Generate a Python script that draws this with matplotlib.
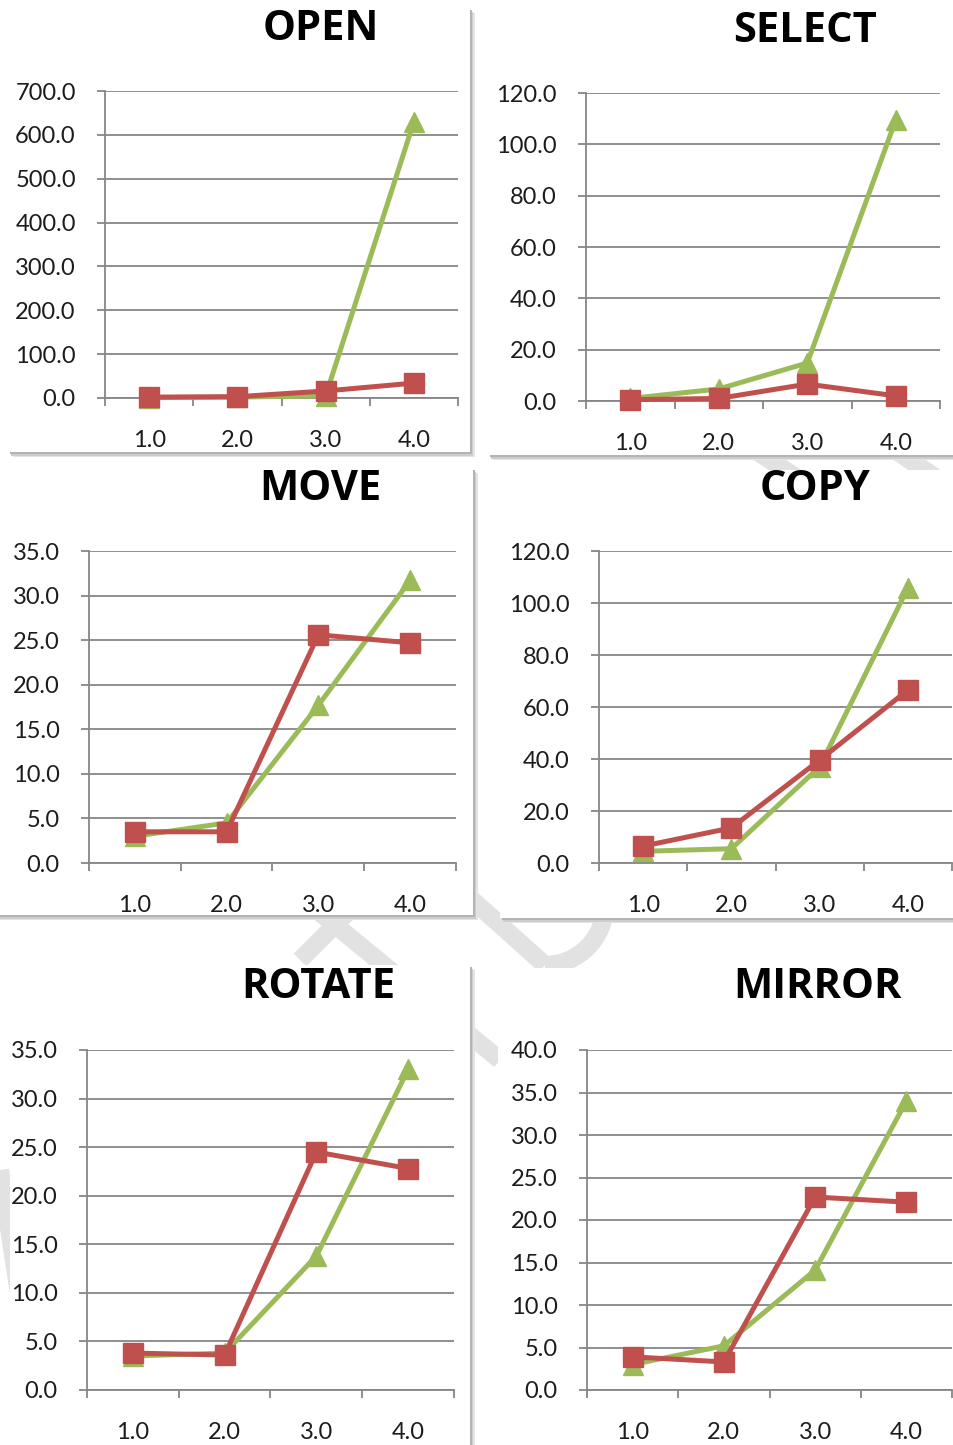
import matplotlib
matplotlib.use("Agg")
import matplotlib.pyplot as plt
from matplotlib.patches import Rectangle, Arc
from matplotlib.lines import Line2D

W, H = 954, 1445

# data
categories = [1.0, 2.0, 3.0, 4.0]
titles = ["OPEN", "SELECT", "MOVE", "COPY", "ROTATE", "MIRROR"]

open_green = [1.0, 2.0, 5.0, 630.0]
open_red = [2.0, 3.0, 16.0, 34.0]
select_green = [1.0, 4.7, 14.8, 109.5]
select_red = [0.5, 1.0, 6.6, 2.0]
move_green = [3.0, 4.5, 17.7, 31.7]
move_red = [3.5, 3.5, 25.6, 24.7]
copy_green = [4.5, 5.5, 37.0, 105.8]
copy_red = [6.5, 13.5, 39.6, 66.5]
rotate_green = [3.5, 3.8, 13.8, 33.0]
rotate_red = [3.8, 3.6, 24.5, 22.8]
mirror_green = [3.0, 5.2, 14.1, 34.0]
mirror_red = [3.9, 3.3, 22.7, 22.1]

y_max = [700, 120, 35, 120, 35, 40]
y_step = [100, 20, 5, 20, 5, 5]

green = "#9BBB59"
red = "#C0504D"
grid_c = "#868686"
txt_c = "#1c1c1c"


def box(x0, y0, x1, y1):
    # pixel box -> figure fraction
    return [x0 / W, 1 - y1 / H, (x1 - x0) / W, (y1 - y0) / H]


def fx(x):
    return x / W


def fy(y):
    return 1 - y / H


fig = plt.figure(figsize=(W / 100, H / 100), dpi=100)
fig.patch.set_facecolor("white")

# faint watermark strokes, only visible in the gaps between panels
wm = "#e2e2e2"
for (xa, ya, xb, yb) in [(280, 880, 500, 1060), (380, 880, 300, 960),
                         (450, 880, 545, 965), (740, 440, 800, 480),
                         (880, 440, 954, 490), (0, 1170, 20, 1300)]:
    fig.add_artist(Line2D([fx(xa), fx(xb)], [fy(ya), fy(yb)],
                          color=wm, lw=13, solid_capstyle="butt", zorder=0))
fig.add_artist(Arc((fx(545), fy(905)), 120 / W, 120 / H, theta1=270, theta2=360,
                   transform=fig.transFigure, color=wm, lw=13, zorder=0))

# panel frames (with a soft shadow on the right / bottom)
panels = [(8, 8, 470, 452), (488, 10, 960, 455), (-5, 468, 473, 915),
          (500, 470, 960, 918), (10, 965, 470, 1450), (498, 968, 960, 1450)]
for (x0, y0, x1, y1) in panels:
    for k, c in enumerate(["#e4e4e4", "#cdcdcd", "#b4b4b4"]):
        off = 5 - k * 1.5
        fig.add_artist(Rectangle((fx(x0 + off), fy(y1 + off)),
                                 (x1 - x0) / W, (y1 - y0) / H,
                                 transform=fig.transFigure, facecolor=c,
                                 edgecolor="none", zorder=1))
    fig.add_artist(Rectangle((fx(x0), fy(y1)), (x1 - x0) / W, (y1 - y0) / H,
                             transform=fig.transFigure, facecolor="white",
                             edgecolor="none", zorder=2))

# plot areas in pixels: left, top, right, bottom
areas = [(105, 91, 458, 398), (586, 93, 940, 401),
         (89, 551, 456, 863), (599, 551, 952, 863),
         (87, 1050, 454, 1390), (587, 1050, 952, 1390)]
title_pos = [(321, 30), (805, 32), (320, 490), (815, 490), (318, 988), (818, 988)]

series = [(open_green, open_red), (select_green, select_red),
          (move_green, move_red), (copy_green, copy_red),
          (rotate_green, rotate_red), (mirror_green, mirror_red)]

for i, (g, r) in enumerate(series):
    x0, y0, x1, y1 = areas[i]
    ax = fig.add_axes(box(x0, y0, x1, y1), zorder=3)
    ax.patch.set_alpha(0)

    ax.plot(categories, g, color=green, lw=3.6, marker="^", ms=14,
            clip_on=False, zorder=4)
    ax.plot(categories, r, color=red, lw=3.6, marker="s", ms=14,
            clip_on=False, zorder=5)

    ax.set_xlim(0.5, 4.5)
    ax.set_ylim(0, y_max[i])
    ticks = list(range(0, y_max[i] + 1, y_step[i]))
    ax.set_yticks(ticks)
    ax.set_yticklabels(["%.1f" % t for t in ticks], family="Lato")
    ax.yaxis.grid(True, color=grid_c, lw=1.3)
    ax.set_axisbelow(True)

    ax.set_xticks(categories)
    ax.set_xticklabels(["%.1f" % c for c in categories], family="Lato")
    ax.set_xticks([0.5, 1.5, 2.5, 3.5, 4.5], minor=True)
    ax.tick_params(axis="x", which="major", length=0, pad=23,
                   labelsize=17, labelcolor=txt_c)
    ax.tick_params(axis="x", which="minor", length=6, width=1.3,
                   color=grid_c, direction="out")
    ax.tick_params(axis="y", length=6, width=1.3, color=grid_c,
                   labelsize=17, labelcolor=txt_c, pad=15)

    for s in ["top", "right"]:
        ax.spines[s].set_visible(False)
    for s in ["left", "bottom"]:
        ax.spines[s].set_color(grid_c)
        ax.spines[s].set_linewidth(1.3)

    tx, ty = title_pos[i]
    fig.text(fx(tx), fy(ty), titles[i], ha="center", va="center",
             fontsize=30, fontweight="bold", family="Open Sans",
             color="black", zorder=6)

fig.savefig("out.png", dpi=100)
